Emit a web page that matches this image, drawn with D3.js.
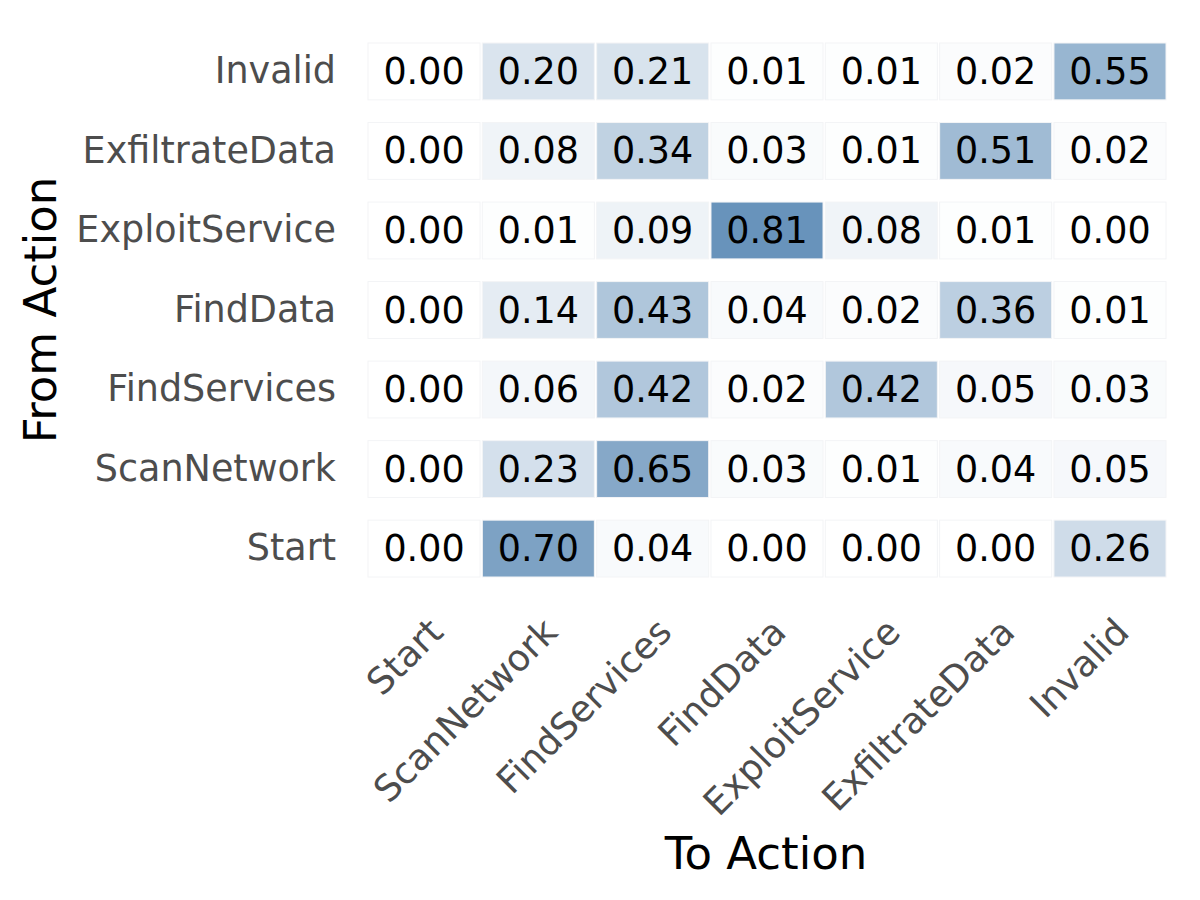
<!DOCTYPE html>
<html>
  <head>
    <meta charset="utf-8">
    <title>Action Transition Heatmap</title>
    <script src="https://d3js.org/d3.v7.min.js"></script>
    <style>
      body { margin: 0; background: #fff; }
      text { font-family: "DejaVu Sans", sans-serif; }
    </style>
  </head>
  <body>
    <script>
      var width = 1200;
      var height = 900;

      // actions, as they appear on the x axis (to) and y axis (from, top to bottom)
      var toActions = ["Start", "ScanNetwork", "FindServices", "FindData", "ExploitService", "ExfiltrateData", "Invalid"];
      var fromActions = ["Invalid", "ExfiltrateData", "ExploitService", "FindData", "FindServices", "ScanNetwork", "Start"];

      // transition probabilities, one row per "from" action
      var fromInvalid        = [0.00, 0.20, 0.21, 0.01, 0.01, 0.02, 0.55];
      var fromExfiltrateData = [0.00, 0.08, 0.34, 0.03, 0.01, 0.51, 0.02];
      var fromExploitService = [0.00, 0.01, 0.09, 0.81, 0.08, 0.01, 0.00];
      var fromFindData       = [0.00, 0.14, 0.43, 0.04, 0.02, 0.36, 0.01];
      var fromFindServices   = [0.00, 0.06, 0.42, 0.02, 0.42, 0.05, 0.03];
      var fromScanNetwork    = [0.00, 0.23, 0.65, 0.03, 0.01, 0.04, 0.05];
      var fromStart          = [0.00, 0.70, 0.04, 0.00, 0.00, 0.00, 0.26];

      var rows = [fromInvalid, fromExfiltrateData, fromExploitService, fromFindData,
                  fromFindServices, fromScanNetwork, fromStart];

      var cells = [];
      rows.forEach(function(row, i) {
        row.forEach(function(v, j) {
          cells.push({from: fromActions[i], to: toActions[j], value: v});
        });
      });

      var xScale = d3.scaleBand()
          .domain(toActions)
          .range([368, 1166])
          .paddingInner(0.02);

      var yScale = d3.scaleBand()
          .domain(fromActions)
          .range([43, 577])
          .paddingInner(0.285);

      var colorScale = d3.scaleLinear()
          .domain([0, d3.max(cells, function(d) { return d.value; })])
          .range(["#ffffff", "rgb(104,147,187)"]);

      var svg = d3.select("body")
        .append("svg")
          .attr("width", width)
          .attr("height", height);

      // cells
      svg.append("g")
          .classed("cells", true)
        .selectAll("rect")
        .data(cells)
        .enter()
        .append("rect")
          .attr("x", function(d) { return xScale(d.to); })
          .attr("y", function(d) { return yScale(d.from); })
          .attr("width", xScale.bandwidth())
          .attr("height", yScale.bandwidth())
          .attr("fill", function(d) { return colorScale(d.value); })
          .attr("stroke", "#f3f4f6")
          .attr("stroke-width", 1);

      // value labels
      svg.append("g")
          .classed("values", true)
        .selectAll("text")
        .data(cells)
        .enter()
        .append("text")
          .attr("x", function(d) { return xScale(d.to) + xScale.bandwidth() / 2; })
          .attr("y", function(d) { return yScale(d.from) + yScale.bandwidth() / 2; })
          .attr("text-anchor", "middle")
          .attr("dominant-baseline", "central")
          .style("font-size", "36.5px")
          .attr("fill", "#000")
          .text(function(d) { return d3.format(".2f")(d.value); });

      // y axis
      var yAxis = svg.append("g")
          .classed("y-axis", true)
          .attr("transform", "translate(" + 350 + ",0)")
          .call(d3.axisLeft(yScale).tickSize(0).tickPadding(14));
      yAxis.select(".domain").remove();
      yAxis.selectAll("text")
          .style("font-size", "36.5px")
          .style("font-family", "DejaVu Sans, sans-serif")
          .attr("fill", "#4d4d4d");

      // x axis
      var xAxis = svg.append("g")
          .classed("x-axis", true)
          .attr("transform", "translate(0," + 616 + ")")
          .call(d3.axisBottom(xScale).tickSize(0).tickPadding(0));
      xAxis.select(".domain").remove();
      xAxis.selectAll("text")
          .style("font-size", "36.5px")
          .style("font-family", "DejaVu Sans, sans-serif")
          .attr("fill", "#4d4d4d")
          .attr("text-anchor", "end")
          .attr("dy", "0.7em")
          .attr("transform", "translate(3,0) rotate(-45)");

      // axis titles
      svg.append("text")
          .attr("x", 766)
          .attr("y", 869)
          .attr("text-anchor", "middle")
          .style("font-size", "45px")
          .attr("fill", "#000")
          .text("To Action");

      svg.append("text")
          .attr("transform", "translate(56,310) rotate(-90)")
          .attr("text-anchor", "middle")
          .style("font-size", "45px")
          .attr("fill", "#000")
          .text("From Action");
    </script>
  </body>
</html>
